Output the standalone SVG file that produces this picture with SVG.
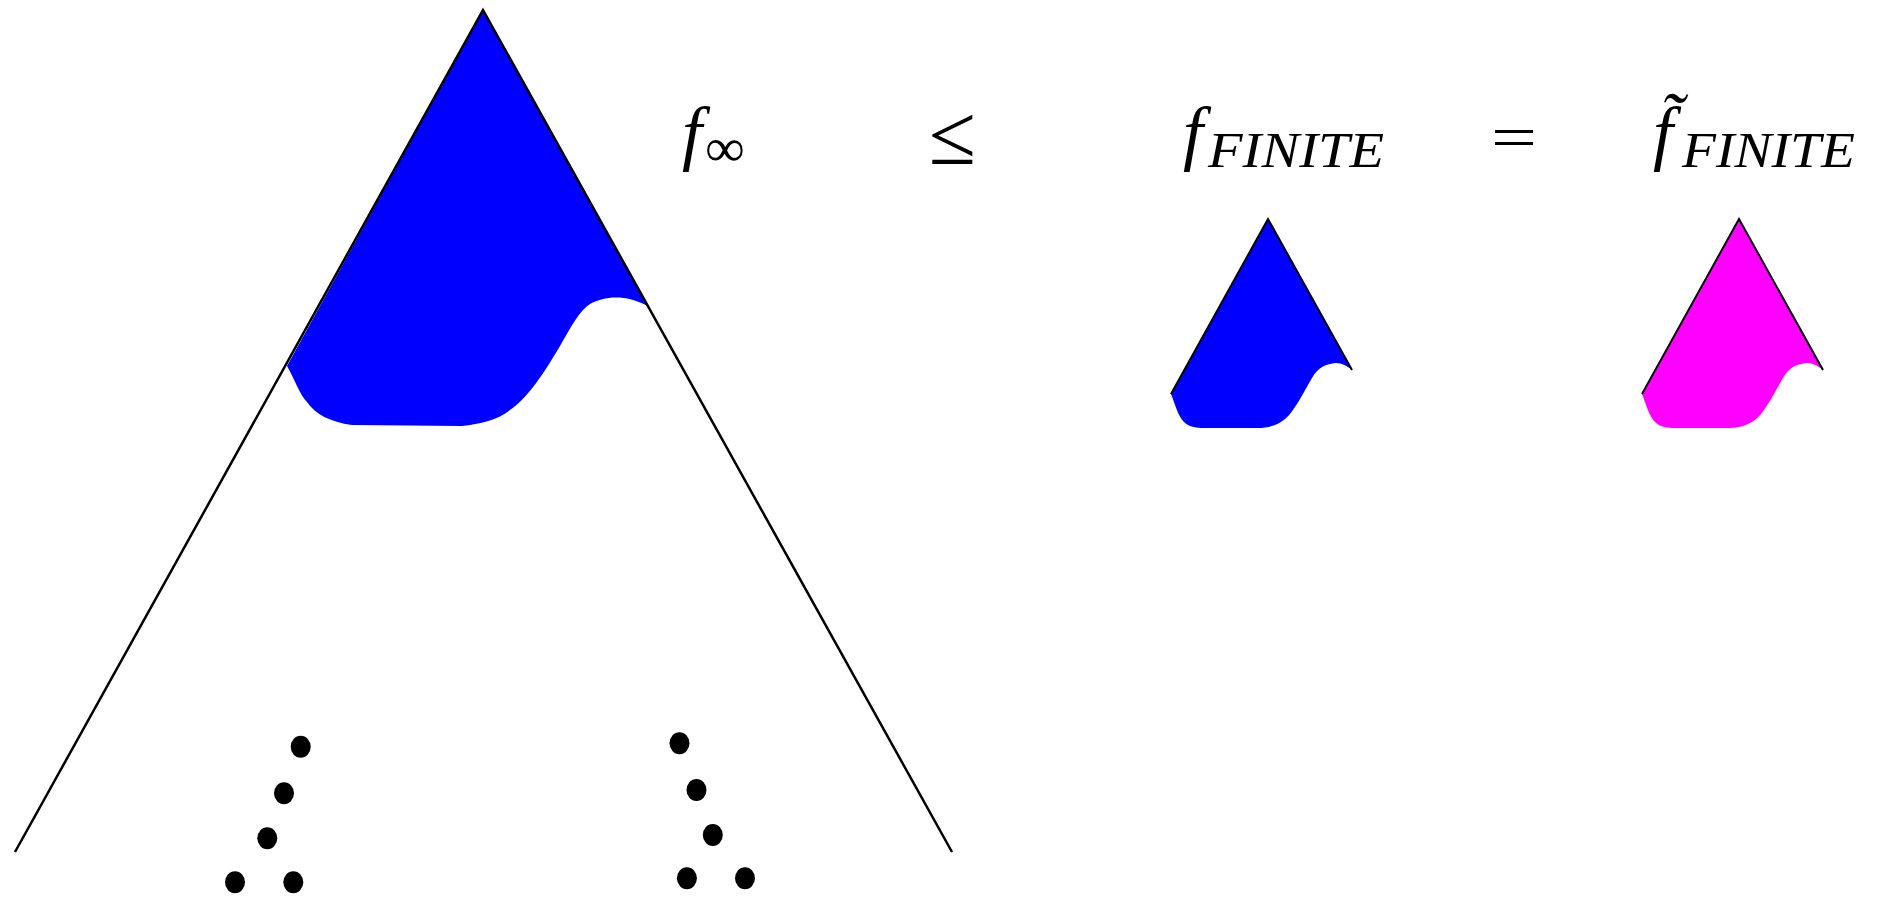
<svg xmlns="http://www.w3.org/2000/svg" width="1878" height="897" viewBox="0 0 1878 897">
<style>
.edge{fill:none;stroke:#000;stroke-width:2.5;stroke-linejoin:miter}
.dot{fill:#000}
.m{font-family:"Liberation Serif",serif;font-style:italic;fill:#000}
.r{font-family:"Liberation Serif",serif;fill:#000}
</style>
<defs>
<path id="smallShape" d="M1268,219 L1171,394 C1175,404 1178,416 1184,422 C1190,428 1198,428 1210,428 L1258,428 C1270,428 1282,424 1290,414 C1298,404 1305,390 1312,378 C1318,367 1326,364 1336,363 C1342,363 1347,366 1352,370 Z"/>
</defs>
<rect width="1878" height="897" fill="#fff"/>
<g id="big-tree">
<path d="M483,10 L287,366 C295,380 300,395 307,402 C315,414 330,422 352,425 L462,426 C480,424 498,420 510,410 C525,400 540,380 560,346 C572,325 580,310 590,304 C605,296 625,294 648,306 Z" fill="#0000ff"/>
<polyline class="edge" points="15,852 483,10 952,852"/>
</g>
<g id="dots-left">
<ellipse class="dot" cx="300.7" cy="746.7" rx="10" ry="11"/>
<ellipse class="dot" cx="284" cy="793.3" rx="10" ry="11"/>
<ellipse class="dot" cx="267.3" cy="838.3" rx="10" ry="11"/>
<ellipse class="dot" cx="235" cy="882.3" rx="10" ry="11"/>
<ellipse class="dot" cx="293.3" cy="882.3" rx="10" ry="11"/>
</g>
<g id="dots-right">
<ellipse class="dot" cx="679.5" cy="743.3" rx="10" ry="11"/>
<ellipse class="dot" cx="696.5" cy="790" rx="10" ry="11"/>
<ellipse class="dot" cx="712.8" cy="835" rx="10" ry="11"/>
<ellipse class="dot" cx="686.9" cy="878.3" rx="10" ry="11"/>
<ellipse class="dot" cx="745" cy="878.3" rx="10" ry="11"/>
</g>
<g id="small-blue">
<use href="#smallShape" fill="#0000ff"/>
<polyline class="edge" style="stroke-width:2" points="1171,394 1268,219 1352,370"/>
</g>
<g id="small-magenta" transform="translate(471,0)">
<use href="#smallShape" fill="#ff00ff"/>
<polyline class="edge" style="stroke-width:2" points="1171,394 1268,219 1352,370"/>
</g>
<g id="label-finf">
<text class="m" x="682" y="157" font-size="72">f</text>
<text class="r" x="705" y="166" font-size="54" textLength="40" lengthAdjust="spacingAndGlyphs">∞</text>
</g>
<g id="label-leq">
<text class="r" x="952" y="164" font-size="86" text-anchor="middle">≤</text>
</g>
<g id="label-ffinite">
<text class="m" x="1183" y="157" font-size="72">f</text>
<text class="m" x="1208" y="167" font-size="50" textLength="176" lengthAdjust="spacingAndGlyphs">FINITE</text>
</g>
<g id="label-eq">
<text class="r" x="1514" y="158" font-size="62" text-anchor="middle" textLength="46" lengthAdjust="spacingAndGlyphs">=</text>
</g>
<g id="label-ftilde">
<text class="m" x="1653" y="157" font-size="72">f̃</text>
<text class="m" x="1682" y="167" font-size="50" textLength="173" lengthAdjust="spacingAndGlyphs">FINITE</text>
</g>
</svg>
